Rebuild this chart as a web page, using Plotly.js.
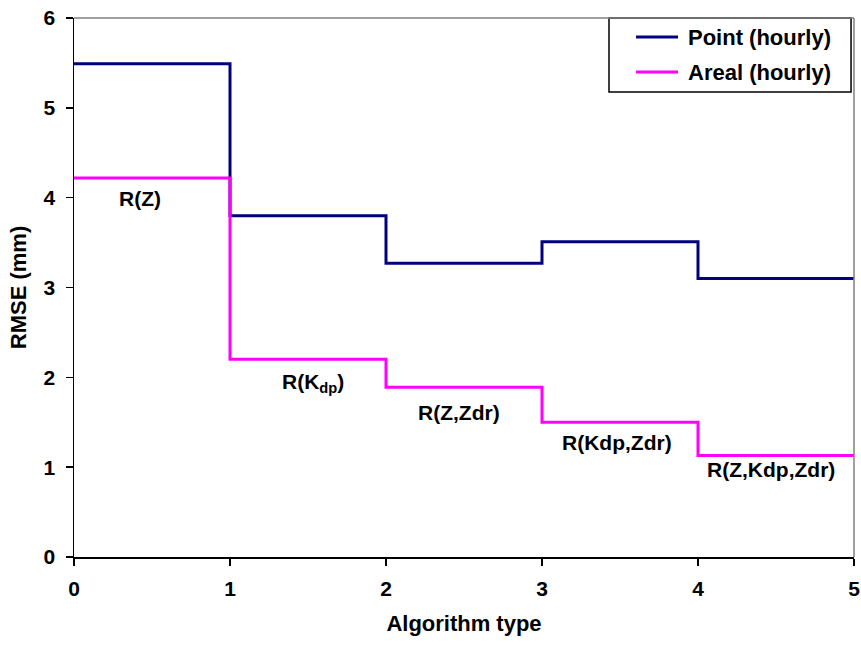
<!DOCTYPE html>
<html><head><meta charset="utf-8">
<script src="https://cdn.plot.ly/plotly-3.0.1.min.js"></script>
<style>body{margin:0;background:#fff}#c{width:861px;height:646px}</style>
</head><body><div id="c"></div>
<script>
const algoX = [0, 1, 2, 3, 4, 5];
const pointRMSE = [5.49, 3.80, 3.27, 3.51, 3.10, 3.10];
const arealRMSE = [4.22, 2.20, 1.89, 1.50, 1.13, 1.13];
const seriesNames = ['Point (hourly)', 'Areal (hourly)'];
const seriesColors = ['#000080', '#FF00FF'];
const xTicks = [0, 1, 2, 3, 4, 5];
const yTicks = [0, 1, 2, 3, 4, 5, 6];
const labelText = ['R(Z)', 'R(K<sub>dp</sub>)', 'R(Z,Zdr)', 'R(Kdp,Zdr)', 'R(Z,Kdp,Zdr)'];
const labelX = [0.42, 1.53, 2.47, 3.48, 4.47];
const labelY = [3.99, 1.94, 1.61, 1.28, 0.97];

const F = 'Liberation Sans, Arial, sans-serif';
const traces = [
  {x: algoX, y: pointRMSE, mode: 'lines', line: {shape: 'hv', color: seriesColors[0], width: 3}, name: seriesNames[0], showlegend: false},
  {x: algoX, y: arealRMSE, mode: 'lines', line: {shape: 'hv', color: seriesColors[1], width: 3}, name: seriesNames[1], showlegend: false}
];
const annotations = labelText.map((t, i) => ({x: labelX[i], y: labelY[i], xref: 'x', yref: 'y', text: '<b>' + t + '</b>', showarrow: false, font: {family: F, size: 21, color: '#000'}}));
// manual legend (paper coords)
const legRowY = [0.9647, 0.8998];
seriesNames.forEach((n, i) => {
  annotations.push({x: 0.7846, y: legRowY[i], xref: 'paper', yref: 'paper', xanchor: 'left', yanchor: 'middle', text: '<b>' + n + '</b>', showarrow: false, font: {family: F, size: 22, color: '#000'}});
});
const shapes = [
  {type: 'line', xref: 'paper', yref: 'paper', x0: 0, x1: 1, y0: 1, y1: 1, line: {color: '#808080', width: 1.5}},
  {type: 'line', xref: 'paper', yref: 'paper', x0: 1, x1: 1, y0: 0, y1: 1, line: {color: '#808080', width: 1.5}},
  {type: 'rect', xref: 'paper', yref: 'paper', x0: 0.6859, x1: 0.9962, y0: 0.8627, y1: 1.0, line: {color: '#000', width: 1.5}, fillcolor: '#fff', layer: 'below'}
];
seriesNames.forEach((n, i) => {
  shapes.push({type: 'line', xref: 'paper', yref: 'paper', x0: 0.7205, x1: 0.7744, y0: legRowY[i], y1: legRowY[i], line: {color: seriesColors[i], width: 3}});
});
const layout = {
  width: 861, height: 646,
  margin: {l: 74, r: 7, t: 18, b: 89},
  paper_bgcolor: '#fff', plot_bgcolor: 'rgba(0,0,0,0)',
  showlegend: false,
  xaxis: {range: [0, 5], tickvals: xTicks, ticktext: xTicks.map(v => '<b>' + v + '</b>'), showgrid: false, zeroline: false, showline: true, linecolor: '#000', linewidth: 1.5,
    ticks: 'outside', ticklen: 7, tickcolor: '#000', tickwidth: 1.5, ticklabelstandoff: 5, tickfont: {family: F, size: 21, color: '#000'},
    title: {text: '<b>Algorithm type</b>', font: {family: F, size: 22, color: '#000'}, standoff: 17}},
  yaxis: {range: [0, 6], tickvals: yTicks, ticktext: yTicks.map(v => '<b>' + v + '</b>'), showgrid: false, zeroline: false, showline: true, linecolor: '#000', linewidth: 1.5,
    ticks: 'outside', ticklen: 7, tickcolor: '#000', tickwidth: 1.5, ticklabelstandoff: 6, tickfont: {family: F, size: 21, color: '#000'},
    title: {text: '<b>RMSE (mm)</b>', font: {family: F, size: 22, color: '#000'}, standoff: 11}},
  shapes: shapes,
  annotations: annotations
};
Plotly.newPlot('c', traces, layout, {displayModeBar: false, staticPlot: true});
</script></body></html>
